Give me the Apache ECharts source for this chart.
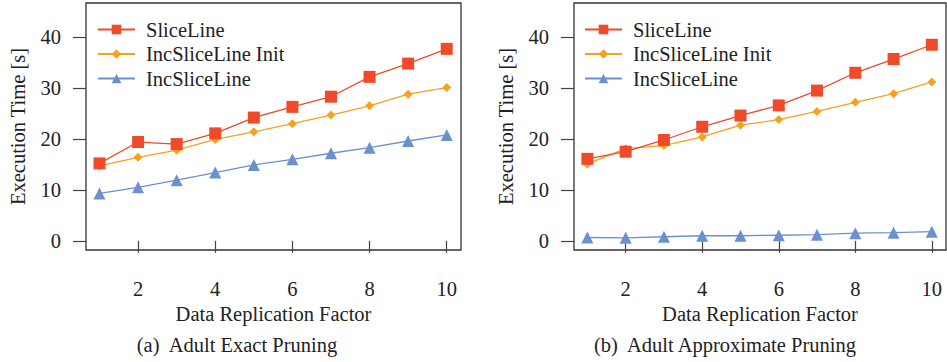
<!DOCTYPE html>
<html>
<head>
<meta charset="utf-8">
<script src="https://cdn.jsdelivr.net/npm/echarts@6/dist/echarts.min.js"></script>
<style>
  html, body { margin: 0; padding: 0; background: #fff; }
  #chart { width: 947px; height: 362px; }
</style>
</head>
<body>
<div id="chart"></div>
<script>
var chart = echarts.init(document.getElementById('chart'), null, {renderer: 'svg'});

var factors = [1, 2, 3, 4, 5, 6, 7, 8, 9, 10];
var seriesNames = ['SliceLine', 'IncSliceLine Init', 'IncSliceLine'];
var xTicks = [2, 4, 6, 8, 10];
var yTicks = [0, 10, 20, 30, 40];
var captions = ['(a)  Adult Exact Pruning', '(b)  Adult Approximate Pruning'];

// (a) exact pruning
var exactSlice = [15.2, 19.4, 19.0, 21.1, 24.2, 26.3, 28.3, 32.2, 34.8, 37.7];
var exactInit = [14.7, 16.4, 17.8, 19.9, 21.4, 23.0, 24.7, 26.5, 28.8, 30.1];
var exactInc = [9.3, 10.5, 11.9, 13.4, 14.9, 16.0, 17.2, 18.3, 19.6, 20.8];
// (b) approximate pruning
var approxSlice = [16.1, 17.5, 19.8, 22.4, 24.6, 26.6, 29.5, 33.0, 35.7, 38.5];
var approxInit = [15.1, 18.1, 18.7, 20.4, 22.7, 23.8, 25.4, 27.2, 28.9, 31.2];
var approxInc = [0.65, 0.6, 0.8, 1.0, 1.0, 1.1, 1.2, 1.5, 1.6, 1.8];

var colors = ['#ef4a2a', '#f8a11d', '#6a90d0'];
var symbols = ['rect', 'diamond', 'triangle'];
var symbolSizes = [12, 9, 12];
var font = "'Liberation Serif', 'Times New Roman', serif";
var fs = 20.5;

var panels = [
  {left: 86, width: 375, legendLeft: 92, data: [exactSlice, exactInit, exactInc], cx: 232},
  {left: 574, width: 372, legendLeft: 579, data: [approxSlice, approxInit, approxInc], cx: 720}
];

var grids = [], xAxes = [], yAxes = [], series = [], legends = [], titles = [];

panels.forEach(function (p, k) {
  grids.push({
    left: p.left, top: 3, width: p.width, height: 247,
    show: true, borderColor: '#333', borderWidth: 1.3, backgroundColor: 'transparent'
  });
  xAxes.push({
    type: 'value', gridIndex: k, min: 0.65, max: 10.37,
    name: 'Data Replication Factor', nameLocation: 'middle', nameGap: 52,
    nameTextStyle: {fontFamily: font, fontSize: fs, color: '#222'},
    axisLine: {show: false},
    axisTick: {show: true, length: 12, customValues: xTicks, lineStyle: {color: '#444', width: 1.2}},
    axisLabel: {customValues: xTicks, margin: 28, fontFamily: font, fontSize: fs, color: '#222'},
    splitLine: {show: false}
  });
  yAxes.push({
    type: 'value', gridIndex: k, min: -1.8, max: 46.7,
    name: 'Execution Time [s]', nameLocation: 'middle', nameGap: 58,
    nameTextStyle: {fontFamily: font, fontSize: fs, color: '#222'},
    axisLine: {show: false},
    axisTick: {show: true, length: 13, customValues: yTicks, lineStyle: {color: '#444', width: 1.2}},
    axisLabel: {customValues: yTicks, margin: 25, fontFamily: font, fontSize: fs, color: '#222'},
    splitLine: {show: false}
  });
  seriesNames.forEach(function (name, i) {
    series.push({
      name: name, type: 'line', xAxisIndex: k, yAxisIndex: k,
      data: factors.map(function (f, j) { return [f, p.data[i][j]]; }),
      symbol: symbols[i], symbolSize: symbolSizes[i],
      showAllSymbol: true,
      lineStyle: {color: colors[i], width: 1.3},
      itemStyle: {color: colors[i]},
      z: 3 - i
    });
  });
  legends.push({
    orient: 'vertical', left: p.legendLeft, top: 14,
    itemWidth: 37, itemHeight: 12, itemGap: 3.5,
    data: seriesNames,
    textStyle: {fontFamily: font, fontSize: fs, color: '#222', padding: [0, 0, 0, 6]}
  });
  titles.push({
    text: captions[k], left: p.cx, top: 329, textAlign: 'center',
    textStyle: {fontFamily: font, fontSize: fs, fontWeight: 'normal', color: '#222'}
  });
});

var option = {
  animation: false,
  backgroundColor: '#fff',
  title: titles,
  legend: legends,
  grid: grids,
  xAxis: xAxes,
  yAxis: yAxes,
  series: series
};

chart.setOption(option);
</script>
</body>
</html>
